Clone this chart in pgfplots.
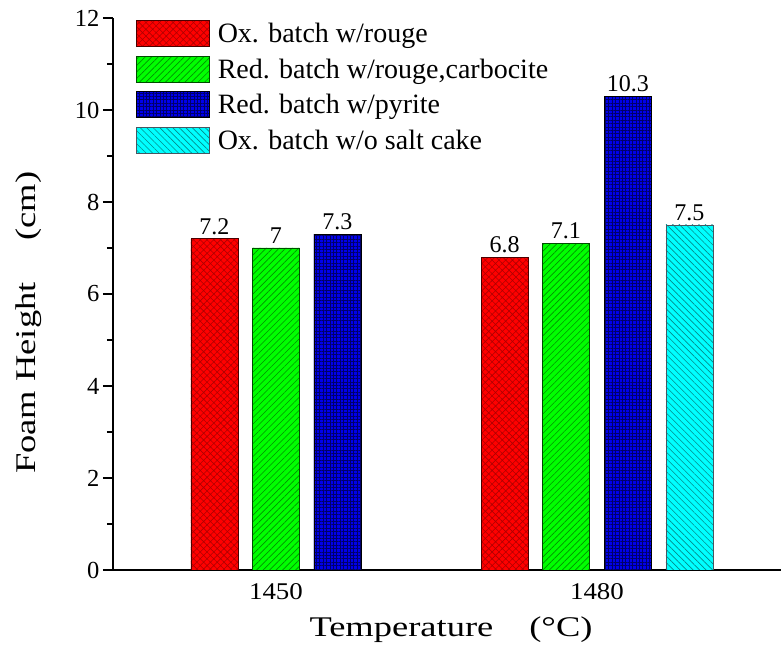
\documentclass[border=0pt]{standalone}
\usepackage{fontspec}
\setmainfont{Liberation Serif}
\newfontfamily\widefont[FakeStretch=1.28]{Liberation Serif}
\newfontfamily\tickfont[FakeStretch=1.12]{Liberation Serif}
\usepackage{pgfplots}
\pgfplotsset{compat=1.18}
\usetikzlibrary{patterns.meta}
\definecolor{cred}{RGB}{255,0,0}
\definecolor{pred}{RGB}{175,0,0}
\definecolor{cgreen}{RGB}{0,255,0}
\definecolor{pgreen}{RGB}{0,145,0}
\definecolor{cblue}{RGB}{0,0,235}
\definecolor{pblue}{RGB}{0,0,105}
\definecolor{ccyan}{RGB}{0,255,255}
\definecolor{pcyan}{RGB}{0,140,140}
\begin{document}
\begin{tikzpicture}
\begin{axis}[
  scale only axis, width=668pt, height=552pt,
  xmin=1434.77, xmax=1497.20, ymin=0, ymax=12,
  axis x line*=bottom, axis y line*=left,
  axis line style={line width=1.2pt, black},
  ybar,
  xtick={1450,1480}, xticklabels={1450,1480},
  x tick style={draw=none},
  ytick={0,2,...,12}, minor y tick num=1,
  tick align=outside, major tick length=10pt, minor tick length=6pt,
  y tick style={line width=1.2pt, black},
  /pgf/number format/assume math mode=true,
  yticklabel style={font=\fontsize{24.5}{24}\selectfont},
  xticklabel style={font=\tickfont\fontsize{24}{24}\selectfont},
  xlabel={Temperature\hspace{36pt}(°C)},
  ylabel={Foam Height\hspace{42pt}(cm)},
  xlabel style={font=\widefont\fontsize{28.5}{30}\selectfont, at={(rel axis cs:0.506,-0.1087)}, anchor=center, inner sep=0pt},
  ylabel style={font=\widefont\fontsize{28.5}{30}\selectfont, at={(rel axis cs:-0.1257,0.448)}, anchor=center, inner sep=0pt},
  nodes near coords,
  nodes near coords style={font=\fontsize{24}{24}\selectfont, text=black, inner sep=0pt, anchor=south, yshift=4pt},
  legend style={draw=none, fill=none, at={(rel axis cs:0.0344,0.9964)}, anchor=north west, inner sep=0pt,
    font=\fontsize{28}{30}\selectfont, row sep=7pt,
    nodes={inner sep=0pt, text depth=6pt, text height=20pt},
    /tikz/every odd column/.append style={column sep=8pt}},
  legend cell align=left,
  legend image code/.code={\draw[#1] (0pt,-10.7pt) rectangle (73pt,15.3pt);},
]
\addplot[bar shift=0pt, bar width=4.39, fill=cred, draw=black!70!red, line width=0.6pt,
  postaction={pattern={Hatch[angle=45,distance=4.8pt,line width=0.6pt]}, pattern color=pred}]
  coordinates {(1444.25,7.2) (1471.36,6.8)};
\addlegendentry{Ox. batch w/rouge}
\addplot[bar shift=0pt, bar width=4.39, fill=cgreen, draw=black!70!green, line width=0.6pt,
  postaction={pattern={Lines[angle=45,distance=4.6pt,line width=0.6pt]}, pattern color=pgreen}]
  coordinates {(1450.0,7.0) (1477.1,7.1)};
\addlegendentry{Red. batch w/rouge,carbocite}
\addplot[bar shift=0pt, bar width=4.39, fill=cblue, draw=black, line width=0.6pt,
  postaction={pattern={Hatch[angle=0,distance=3.4pt,line width=0.45pt]}, pattern color=pblue}]
  coordinates {(1455.75,7.3) (1482.9,10.3)};
\addlegendentry{Red. batch w/pyrite}
\addplot[bar shift=0pt, bar width=4.39, fill=ccyan, draw=black!70!cyan, line width=0.6pt,
  postaction={pattern={Lines[angle=-45,distance=4.6pt,line width=0.6pt]}, pattern color=pcyan}]
  coordinates {(1488.64,7.5)};
\addlegendentry{Ox. batch w/o salt cake}
\end{axis}
\pgfresetboundingbox
\path[use as bounding box] ([xshift=-113pt,yshift=-94pt]current axis.south west) rectangle ([yshift=18pt]current axis.north east);
\end{tikzpicture}
\end{document}
